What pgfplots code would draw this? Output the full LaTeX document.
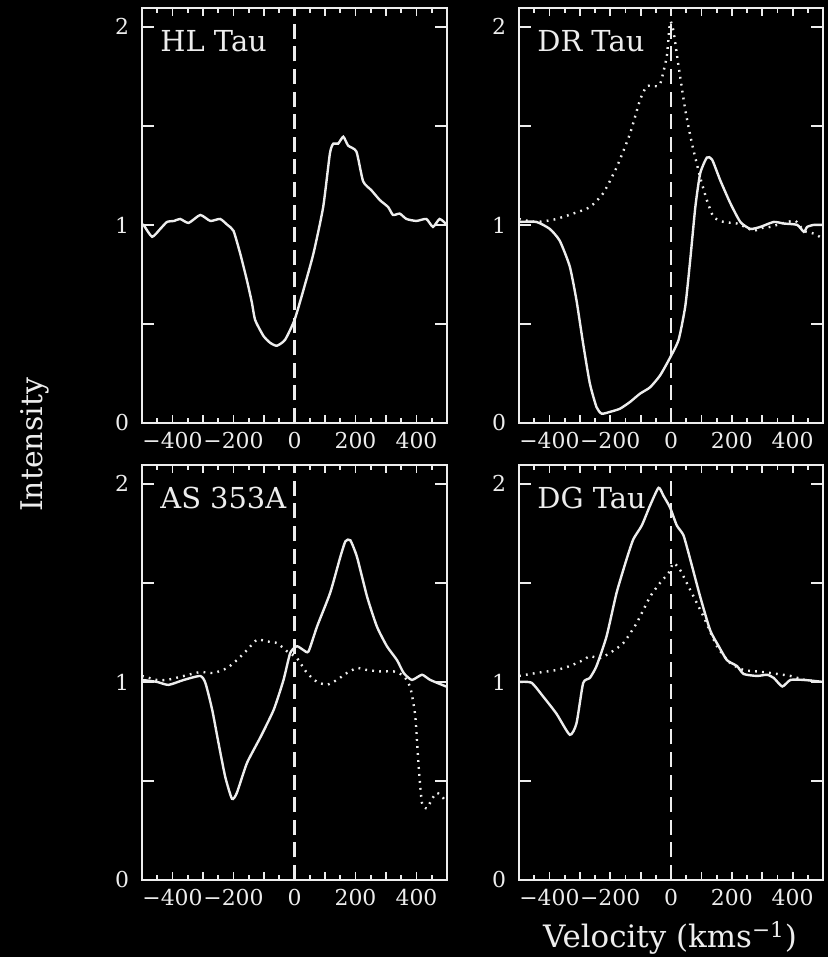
\documentclass[border=0pt]{standalone}
\usepackage{fontspec}
\setmainfont{DejaVu Serif}
\usepackage{pgfplots}
\pgfplotsset{compat=1.18}

\definecolor{ink}{gray}{0.93}

\pgfplotsset{
  panel/.style={
    scale only axis, width=152.5bp, height=207.5bp, anchor=south west,
    xmin=-500, xmax=500, ymin=0, ymax=2.095,
    axis line style={ink, line width=1bp},
    every tick/.style={ink, line width=0.9bp},
    tick align=inside, major tick length=4bp, minor tick length=2.5bp,
    xtick={-500,-400,...,500}, minor x tick num=1,
    xticklabels={,−400,,−200,,0,,200,,400,},
    ytick={0,0.5,1,1.5,2}, yticklabels={0,,1,,2},
    extra y ticks={0,0.5,1,1.5,2}, extra y tick labels={},
    extra y tick style={major tick length=6bp},
    tick label style={font=\fontsize{11}{13}\selectfont, text=ink},
    /pgf/number format/assume math mode=true,
    xticklabel style={yshift=-1bp},
    yticklabel style={xshift=-3bp},
    clip=true,
  },
  spec/.style={ink, line width=1.2bp, smooth, tension=0.35, no marks},
  dots/.style={ink, line width=1.2bp, smooth, tension=0.35, no marks, dash pattern=on 0.9bp off 2.6bp},
  zero/.style={ink, line width=1.2bp, dash pattern=on 7.5bp off 3.8bp, no marks},
}
\tikzset{tag/.style={font=\fontsize{14.5}{17}\selectfont, text=ink, anchor=north west, inner sep=0pt}}

\begin{document}
\begin{tikzpicture}
\fill[black] (0,0) rectangle (414bp,478.5bp);
\path[use as bounding box] (0,0) rectangle (414bp,478.5bp);

% HL Tau
\begin{axis}[panel, at={(71bp,267bp)}]
\addplot[zero] coordinates {(0,0) (0,2.1)};
\addplot[spec] coordinates {(-500,1.0) (-495,1.0) (-467,0.94) (-440,0.98) (-418,1.015) (-395,1.02) (-375,1.03) (-347,1.01) (-309,1.05) (-276,1.02) (-244,1.03) (-220,1.0) (-200,0.97) (-178,0.855) (-156,0.72) (-140,0.61) (-129,0.52) (-102,0.44) (-80,0.405) (-58,0.39) (-31,0.42) (0,0.52) (29,0.67) (62,0.855) (94,1.09) (116,1.36) (127,1.41) (143,1.41) (160,1.445) (176,1.40) (203,1.37) (225,1.22) (252,1.175) (280,1.125) (307,1.09) (323,1.05) (345,1.057) (367,1.03) (400,1.02) (432,1.03) (454,0.99) (476,1.03) (500,1.0)};
\node[tag] at (rel axis cs:0,1) [xshift=9bp, yshift=-11bp] {HL Tau};
\end{axis}

% DR Tau
\begin{axis}[panel, at={(259.5bp,267bp)}, width=152bp]
\addplot[zero] coordinates {(0,0) (0,2.1)};
\addplot[dots] coordinates {(-500,1.03) (-470,1.02) (-443,1.015) (-410,1.02) (-377,1.03) (-322,1.057) (-267,1.09) (-223,1.16) (-179,1.29) (-135,1.46) (-102,1.63) (-80,1.70) (-55,1.70) (-36,1.71) (-14,1.85) (-3,2.025) (8,1.98) (25,1.80) (47,1.58) (69,1.41) (96,1.24) (118,1.125) (140,1.04) (173,1.015) (217,1.007) (250,0.985) (272,0.97) (300,0.985) (327,0.99) (371,1.01) (410,1.02) (437,0.97) (470,0.956) (500,0.93)};
\addplot[spec] coordinates {(-500,1.015) (-443,1.015) (-399,0.98) (-366,0.92) (-333,0.79) (-311,0.62) (-289,0.40) (-267,0.20) (-245,0.08) (-228,0.047) (-201,0.056) (-168,0.072) (-135,0.106) (-102,0.148) (-69,0.18) (-36,0.24) (-3,0.33) (25,0.42) (47,0.59) (63,0.82) (80,1.09) (96,1.26) (118,1.34) (135,1.33) (162,1.225) (195,1.11) (228,1.015) (261,0.98) (294,0.99) (338,1.015) (371,1.007) (415,1.0) (437,0.965) (448,0.99) (470,1.0) (500,1.0)};
\node[tag] at (rel axis cs:0,1) [xshift=9bp, yshift=-11bp] {DR Tau};
\end{axis}

% AS 353A
\begin{axis}[panel, at={(71bp,38.5bp)}]
\addplot[zero] coordinates {(0,0) (0,2.1)};
\addplot[dots] coordinates {(-500,1.03) (-451,1.01) (-418,1.01) (-363,1.03) (-309,1.05) (-265,1.045) (-221,1.07) (-189,1.11) (-156,1.16) (-123,1.213) (-90,1.204) (-57,1.196) (-24,1.154) (8,1.12) (41,1.045) (74,1.0) (107,0.986) (139,1.01) (172,1.045) (205,1.07) (238,1.06) (281,1.053) (325,1.053) (358,1.03) (380,0.97) (396,0.826) (407,0.573) (418,0.388) (434,0.362) (451,0.41) (467,0.44) (484,0.42) (500,0.39)};
\addplot[spec] coordinates {(-500,1.01) (-451,1.0) (-413,0.985) (-363,1.01) (-309,1.03) (-292,0.994) (-270,0.86) (-249,0.69) (-227,0.52) (-205,0.41) (-189,0.44) (-156,0.59) (-112,0.72) (-68,0.86) (-36,1.01) (-14,1.146) (8,1.18) (30,1.16) (46,1.154) (74,1.28) (117,1.45) (150,1.63) (167,1.71) (183,1.715) (205,1.63) (238,1.43) (270,1.28) (303,1.18) (336,1.11) (358,1.045) (385,1.01) (418,1.036) (445,1.01) (500,0.975)};
\node[tag] at (rel axis cs:0,1) [xshift=9bp, yshift=-11bp] {AS 353A};
\end{axis}

% DG Tau
\begin{axis}[panel, at={(259.5bp,38.5bp)}, width=152bp]
\addplot[zero] coordinates {(0,0) (0,2.1)};
\addplot[dots] coordinates {(-500,1.03) (-443,1.045) (-377,1.06) (-333,1.08) (-289,1.11) (-267,1.13) (-234,1.12) (-201,1.146) (-157,1.196) (-113,1.297) (-69,1.43) (-36,1.50) (-8,1.55) (8,1.60) (30,1.565) (63,1.465) (107,1.33) (151,1.18) (195,1.095) (239,1.06) (283,1.053) (327,1.045) (393,1.03) (440,1.01) (500,1.0)};
\addplot[spec] coordinates {(-500,1.0) (-459,0.996) (-421,0.927) (-377,0.84) (-333,0.733) (-311,0.79) (-289,0.994) (-267,1.02) (-245,1.08) (-212,1.23) (-179,1.45) (-146,1.62) (-124,1.72) (-96,1.79) (-69,1.89) (-41,1.98) (-25,1.94) (-3,1.88) (19,1.79) (41,1.74) (63,1.62) (96,1.43) (129,1.26) (157,1.18) (184,1.11) (217,1.08) (239,1.04) (283,1.03) (316,1.036) (338,1.02) (366,0.977) (393,1.01) (437,1.01) (500,1.0)};
\node[tag] at (rel axis cs:0,1) [xshift=9bp, yshift=-11bp] {DG Tau};
\end{axis}

\node[rotate=90, text=ink, font=\fontsize{15}{18}\selectfont] at (17.5bp,256bp) {Intensity};
\node[text=ink, font=\fontsize{15.5}{18}\selectfont] at (335bp,9.5bp) {Velocity (kms\textsuperscript{−1})};
\end{tikzpicture}
\end{document}
